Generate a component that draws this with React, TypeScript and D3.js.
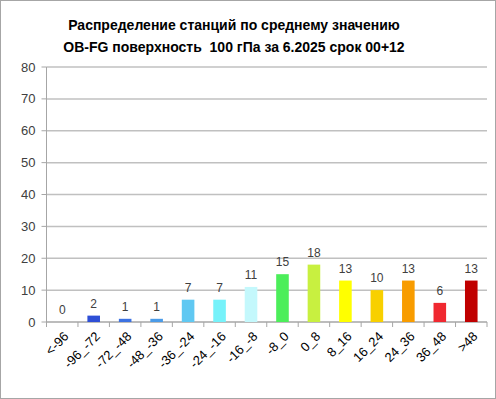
import React from "react";
import * as d3 from "d3";

const categories = ["<-96", "-96_-72", "-72_-48", "-48_-36", "-36_-24", "-24_-16", "-16_-8", "-8_0", "0_8", "8_16", "16_24", "24_36", "36_48", ">48"];
const counts = [0, 2, 1, 1, 7, 7, 11, 15, 18, 13, 10, 13, 6, 13];
const barColors = ["#1F2F9F", "#2E4FD6", "#3C72E2", "#4A9BE8", "#60C8F2", "#76F2FA", "#C4F8FC", "#4CEE5A", "#C8F040", "#FFFF00", "#F8D000", "#F89C00", "#F02830", "#C00000"];
const yTicks = [0, 10, 20, 30, 40, 50, 60, 70, 80];
const titleLines = [
  "Распределение станций по среднему значению",
  "OB-FG поверхность  100 гПа за 6.2025 срок 00+12",
];

const W = 496;
const H = 399;
const margin = { top: 67, right: 9, bottom: 77, left: 46.5 };
const font = "'Liberation Sans', Arial, sans-serif";

export default function App() {
  const x = d3
    .scaleBand<string>()
    .domain(categories)
    .range([margin.left, W - margin.right])
    .padding(0);
  const y = d3
    .scaleLinear()
    .domain([0, 80])
    .range([H - margin.bottom, margin.top]);

  const barW = x.bandwidth() * 0.4;
  const y0 = y(0);

  return (
    <svg width={W} height={H} style={{ position: "absolute", left: 0, top: 0, background: "#fff" }}>
      <rect x={0.5} y={0.5} width={W - 1} height={H - 1} fill="#fff" stroke="#a6a6a6" />
      {titleLines.map((t, i) => (
        <text
          key={i}
          x={234}
          y={30 + i * 22}
          textAnchor="middle"
          fontFamily={font}
          fontWeight="bold"
          fontSize={14}
          fill="#000"
          style={{ whiteSpace: "pre" }}
        >
          {t}
        </text>
      ))}
      {yTicks.map((t) => (
        <g key={t}>
          {t > 0 && (
            <line x1={margin.left} x2={W - margin.right} y1={y(t)} y2={y(t)} stroke="#c0c0c0" strokeWidth={1.5} />
          )}
          <line x1={margin.left - 5} x2={margin.left} y1={y(t)} y2={y(t)} stroke="#a6a6a6" />
          <text
            x={margin.left - 11}
            y={y(t)}
            dy="0.35em"
            textAnchor="end"
            fontFamily={font}
            fontSize={13}
            fill="#404040"
          >
            {t}
          </text>
        </g>
      ))}
      <line x1={margin.left} x2={margin.left} y1={margin.top} y2={y0} stroke="#a6a6a6" />
      <line x1={margin.left} x2={W - margin.right} y1={y0} y2={y0} stroke="#a6a6a6" strokeWidth={1.5} />
      {categories.map((c) => {
        const left = x(c) as number;
        return (
          <line key={c} x1={left + x.bandwidth()} x2={left + x.bandwidth()} y1={y0} y2={y0 + 5} stroke="#a6a6a6" />
        );
      })}
      <line x1={margin.left} x2={margin.left} y1={y0} y2={y0 + 5} stroke="#a6a6a6" />
      {categories.map((c, i) => {
        const cx = (x(c) as number) + x.bandwidth() / 2;
        const v = counts[i];
        return (
          <g key={c}>
            {v > 0 && (
              <rect x={cx - barW / 2} y={y(v)} width={barW} height={y0 - y(v)} fill={barColors[i]} />
            )}
            <text x={cx} y={y(v) - 8} textAnchor="middle" fontFamily={font} fontSize={12} fill="#404040">
              {v}
            </text>
            <text
              transform={`translate(${cx + 4},${y0 + 12}) rotate(-45)`}
              textAnchor="end"
              dy="0.35em"
              fontFamily={font}
              fontSize={13}
              fill="#000"
            >
              {c}
            </text>
          </g>
        );
      })}
    </svg>
  );
}
